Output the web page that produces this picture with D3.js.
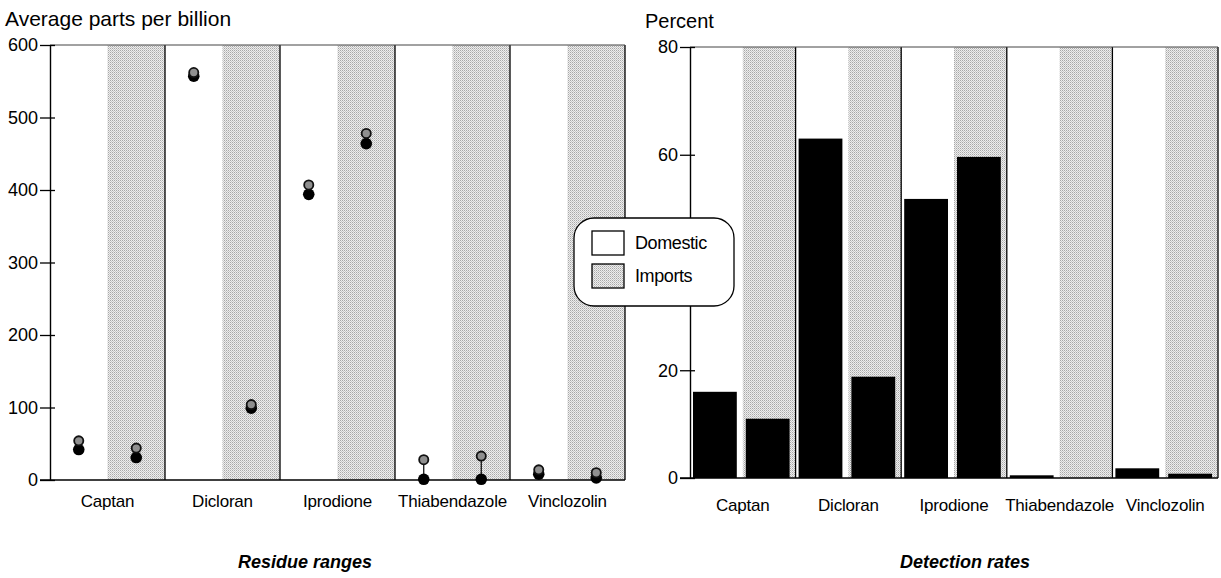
<!DOCTYPE html>
<html>
<head>
<meta charset="utf-8">
<script src="https://cdnjs.cloudflare.com/ajax/libs/d3/7.8.5/d3.min.js"></script>
<style>
  body { margin: 0; background: #fff; }
  text { font-family: "Liberation Sans", Arial, Helvetica, sans-serif; fill: #000; }
</style>
</head>
<body>
<div id="chart"></div>
<script>
// pesticides
var categories = ["Captan", "Dicloran", "Iprodione", "Thiabendazole", "Vinclozolin"];
var sources = ["Domestic", "Imports"];

// residue ranges, parts per billion (low = black dot, high = shaded dot)
var residueLowDomestic  = [42, 557, 394, 1, 8];
var residueHighDomestic = [54, 562, 407, 28, 14];
var residueLowImports   = [31, 99, 464, 1, 3];
var residueHighImports  = [44, 104, 478, 33, 10];

// detection rates, percent
var detectDomestic = [16, 63, 51.8, 0.5, 1.8];
var detectImports  = [11, 18.8, 59.6, 0, 0.8];

var leftTicks = [0, 100, 200, 300, 400, 500, 600];
var rightTicks = [0, 20, 60, 80];   // the 40 label sits under the legend

var W = 1221, H = 578;

var svg = d3.select("#chart").append("svg")
    .attr("width", W)
    .attr("height", H);

// dotted screen used for the "Imports" halves
var pat = svg.append("defs").append("pattern")
    .attr("id", "screen")
    .attr("patternUnits", "userSpaceOnUse")
    .attr("width", 2).attr("height", 2);
pat.append("rect").attr("width", 2).attr("height", 2).attr("fill", "#eeeeee");
pat.append("rect").attr("width", 1).attr("height", 1).attr("fill", "#a8a8a8");
pat.append("rect").attr("x", 1).attr("y", 1).attr("width", 1).attr("height", 1).attr("fill", "#c8c8c8");

function panel(opt) {
    var g = svg.append("g");

    var x = d3.scaleBand().domain(categories).range([opt.x0, opt.x1]);
    var xs = d3.scaleBand().domain(sources).range([0, x.bandwidth()]);
    var y = d3.scaleLinear().domain(opt.domain).range([opt.y0, opt.y1]);

    // shaded import halves
    g.selectAll(".shade")
        .data(categories)
        .enter().append("rect")
        .attr("x", function(d) { return x(d) + xs("Imports"); })
        .attr("y", y(opt.domain[1]))
        .attr("width", xs.bandwidth())
        .attr("height", y(opt.domain[0]) - y(opt.domain[1]))
        .attr("fill", "url(#screen)");

    // group separators
    g.selectAll(".sep")
        .data(categories)
        .enter().append("line")
        .attr("x1", function(d) { return x(d) + x.bandwidth(); })
        .attr("x2", function(d) { return x(d) + x.bandwidth(); })
        .attr("y1", y(opt.domain[1]))
        .attr("y2", y(opt.domain[0]))
        .attr("stroke", "#000")
        .attr("stroke-width", 1.3);

    // top line
    g.append("line")
        .attr("x1", opt.x0).attr("x2", opt.x1)
        .attr("y1", y(opt.domain[1])).attr("y2", y(opt.domain[1]))
        .attr("stroke", "#444").attr("stroke-width", 1);

    // y axis
    var yAxis = d3.axisLeft(y).tickValues(opt.ticks).tickSize(0).tickPadding(12);
    var ya = g.append("g")
        .attr("transform", "translate(" + opt.x0 + ",0)")
        .call(yAxis);
    ya.select(".domain").attr("stroke", "#000").attr("stroke-width", 1.4);
    ya.selectAll(".tick text")
        .style("font-size", "18px")
        .style("font-family", "'Liberation Sans', Arial, sans-serif")
        .attr("fill", "#000");
    ya.selectAll(".tick").append("line")
        .attr("x1", -10).attr("x2", 5)
        .attr("stroke", "#000").attr("stroke-width", 1.3);

    // x axis baseline
    g.append("line")
        .attr("x1", opt.x0 - 10).attr("x2", opt.x1)
        .attr("y1", y(0)).attr("y2", y(0))
        .attr("stroke", "#000").attr("stroke-width", 1.5);

    g.selectAll(".cat")
        .data(categories)
        .enter().append("text")
        .attr("x", function(d) { return x(d) + x.bandwidth() / 2; })
        .attr("y", opt.labelY)
        .attr("text-anchor", "middle")
        .style("font-size", "17px")
        .style("letter-spacing", "-0.2px")
        .text(function(d) { return d; });

    // axis title
    g.append("text")
        .attr("x", opt.titleX)
        .attr("y", opt.titleY)
        .style("font-size", opt.titleSize)
        .text(opt.title);

    // caption
    g.append("text")
        .attr("x", opt.captionX)
        .attr("y", 568)
        .attr("text-anchor", "middle")
        .style("font-size", "18px")
        .style("font-weight", "bold")
        .style("font-style", "italic")
        .text(opt.caption);

    return { g: g, x: x, xs: xs, y: y };
}

// ---------- left: residue ranges ----------
var L = panel({
    x0: 50, x1: 625, y0: 480, y1: 45,
    domain: [0, 600], ticks: leftTicks, labelY: 507,
    title: "Average parts per billion", titleX: 5, titleY: 26, titleSize: "21px",
    caption: "Residue ranges", captionX: 305
});

var ranges = [];
categories.forEach(function(c, i) {
    ranges.push({ cat: c, src: "Domestic", lo: residueLowDomestic[i], hi: residueHighDomestic[i] });
    ranges.push({ cat: c, src: "Imports", lo: residueLowImports[i], hi: residueHighImports[i] });
});

function cx(d) { return L.x(d.cat) + L.xs(d.src) + L.xs.bandwidth() / 2; }

L.g.selectAll(".rng")
    .data(ranges)
    .enter().append("line")
    .attr("x1", cx).attr("x2", cx)
    .attr("y1", function(d) { return L.y(d.lo); })
    .attr("y2", function(d) { return L.y(d.hi); })
    .attr("stroke", "#000").attr("stroke-width", 1.2);

L.g.selectAll(".lo")
    .data(ranges)
    .enter().append("circle")
    .attr("cx", cx)
    .attr("cy", function(d) { return L.y(d.lo); })
    .attr("r", 5.8)
    .attr("fill", "#000");

L.g.selectAll(".hi")
    .data(ranges)
    .enter().append("circle")
    .attr("cx", cx)
    .attr("cy", function(d) { return L.y(d.hi); })
    .attr("r", 4.6)
    .attr("fill", "#8f8f8f")
    .attr("stroke", "#111")
    .attr("stroke-width", 1.8);

// ---------- right: detection rates ----------
var R = panel({
    x0: 690, x1: 1218, y0: 478, y1: 47,
    domain: [0, 80], ticks: rightTicks, labelY: 511,
    title: "Percent", titleX: 645, titleY: 28, titleSize: "20px",
    caption: "Detection rates", captionX: 965
});

var rates = [];
categories.forEach(function(c, i) {
    rates.push({ cat: c, src: "Domestic", v: detectDomestic[i] });
    rates.push({ cat: c, src: "Imports", v: detectImports[i] });
});

R.g.selectAll(".bar")
    .data(rates.filter(function(d) { return d.v > 0; }))
    .enter().append("rect")
    .attr("x", function(d) { return R.x(d.cat) + R.xs(d.src) + 3; })
    .attr("width", R.xs.bandwidth() - 9)
    .attr("y", function(d) { return R.y(d.v); })
    .attr("height", function(d) { return R.y(0) - R.y(d.v); })
    .attr("fill", "#000");

// ---------- legend ----------
var lg = svg.append("g").attr("transform", "translate(574,218)");
lg.append("rect")
    .attr("width", 160).attr("height", 88)
    .attr("rx", 20).attr("ry", 20)
    .attr("fill", "#fff")
    .attr("stroke", "#000").attr("stroke-width", 1.3);

var items = lg.selectAll(".item")
    .data(sources)
    .enter().append("g")
    .attr("transform", function(d, i) { return "translate(18," + (13 + i * 33) + ")"; });
items.append("rect")
    .attr("width", 32).attr("height", 24)
    .attr("fill", function(d) { return d === "Imports" ? "url(#screen)" : "#fff"; })
    .attr("stroke", "#000").attr("stroke-width", 1.3);
items.append("text")
    .attr("x", 43).attr("y", 18)
    .style("font-size", "18px")
    .style("letter-spacing", "-0.4px")
    .text(function(d) { return d; });
</script>
</body>
</html>
